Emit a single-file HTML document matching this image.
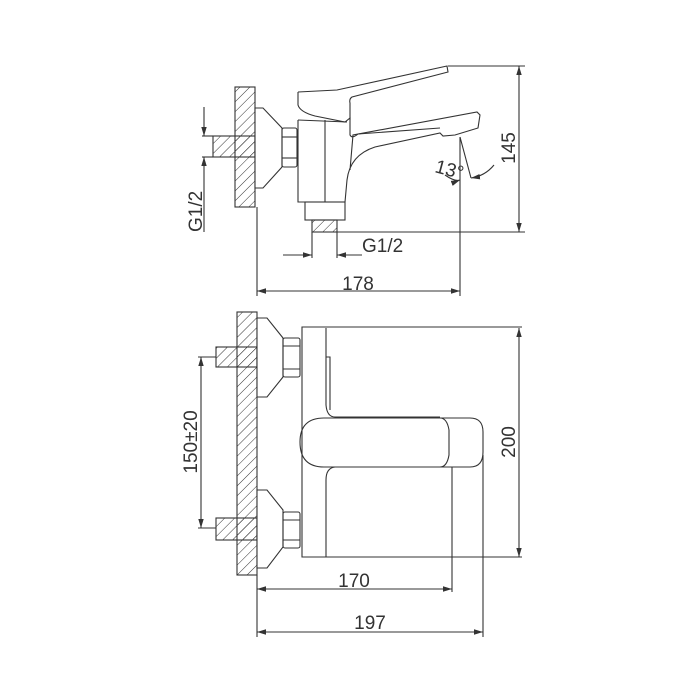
<!DOCTYPE html>
<html><head><style>html,body{margin:0;padding:0;background:#fff}svg{display:block}</style></head>
<body>
<svg width="700" height="700" viewBox="0 0 700 700" xmlns="http://www.w3.org/2000/svg" font-family="Liberation Sans, sans-serif" fill="none" stroke="#333" stroke-width="1.1">
<defs>
<pattern id="h" patternUnits="userSpaceOnUse" width="7" height="7" patternTransform="rotate(45)">
<line x1="0" y1="0" x2="0" y2="7" stroke="#333" stroke-width="1"/>
</pattern>
<marker id="a" viewBox="0 0 10 10" refX="10" refY="5" markerWidth="9" markerHeight="9" orient="auto-start-reverse" markerUnits="userSpaceOnUse"><path d="M0,2 L10,5 L0,8 z" fill="#333" stroke="none"/></marker>
</defs>

<!-- TOP VIEW -->
<rect x="235" y="87" width="20" height="120" fill="url(#h)"/>
<rect x="213" y="136" width="42" height="21" fill="url(#h)"/>
<path d="M255,108 L263,108 L282,128 L282,167 L263,188 L255,188 Z" fill="#fff"/>
<rect x="282" y="128" width="15" height="39" rx="2"/>
<line x1="282" y1="137" x2="297" y2="137"/><line x1="282" y1="158" x2="297" y2="158"/>
<!-- body -->
<path d="M298,120 L298,202 L345,202 L347,180 Q350,155 375,147 L440,133 L443,136 L455,135 L478,128 L480,115 L477,112 L353,135 L350,170"/>
<line x1="325" y1="120" x2="325" y2="202"/>
<line x1="298" y1="120" x2="347" y2="122"/>
<!-- handle -->
<path d="M298,92 L298,105 Q300,112 315,116 L345,122 L350,118 L350,135 Q352,139 358,134 L440,128"/>
<path d="M298,92 L337,90 L447,66 L448,72 L352,97 Q349,99 350,103 L350,120"/>
<rect x="305" y="202" width="40" height="18"/>
<rect x="312" y="220" width="25" height="12" fill="url(#h)"/>
<!-- 13 deg -->
<line x1="460" y1="137" x2="460" y2="180"/>
<line x1="460" y1="137" x2="471" y2="178"/>
<path d="M445,175 Q455,182 460,180" marker-end="url(#a)"/>
<path d="M494,165 Q485,176 471,178" marker-end="url(#a)"/>
<text x="434" y="172" font-size="19" fill="#333" stroke="none" transform="rotate(15 434 172)">13°</text>
<!-- G1/2 left -->
<line x1="204" y1="107" x2="204" y2="136" marker-end="url(#a)"/>
<line x1="204" y1="232" x2="204" y2="157" marker-end="url(#a)"/>
<line x1="202" y1="136" x2="213" y2="136"/><line x1="202" y1="157" x2="213" y2="157"/>
<text x="0" y="0" font-size="19" fill="#333" stroke="none" transform="translate(202,232) rotate(-90)">G1/2</text>
<!-- G1/2 bottom -->
<line x1="312" y1="232" x2="312" y2="258"/><line x1="337" y1="232" x2="337" y2="258"/>
<line x1="283" y1="255" x2="312" y2="255" marker-end="url(#a)"/>
<line x1="362" y1="255" x2="337" y2="255" marker-end="url(#a)"/>
<text x="362" y="252" font-size="19" fill="#333" stroke="none">G1/2</text>
<!-- 178 -->
<line x1="257" y1="207" x2="257" y2="296"/>
<line x1="460" y1="180" x2="460" y2="296"/>
<line x1="257" y1="291" x2="460" y2="291" marker-start="url(#a)" marker-end="url(#a)"/>
<text x="358" y="290" font-size="19" fill="#333" stroke="none" text-anchor="middle">178</text>
<!-- 145 -->
<line x1="448" y1="66" x2="525" y2="66"/>
<line x1="337" y1="232" x2="525" y2="232"/>
<line x1="519" y1="66" x2="519" y2="232" marker-start="url(#a)" marker-end="url(#a)"/>
<text x="0" y="0" font-size="19" fill="#333" stroke="none" text-anchor="middle" transform="translate(515,148) rotate(-90)">145</text>

<!-- BOTTOM VIEW -->
<rect x="237" y="312" width="20" height="263" fill="url(#h)"/>
<rect x="216" y="347" width="41" height="20" fill="url(#h)"/>
<rect x="216" y="518" width="41" height="22" fill="url(#h)"/>
<path d="M257,318 L267,318 L283,338 L283,377 L267,397 L257,397 Z" fill="#fff"/>
<path d="M257,490 L267,490 L283,510 L283,547 L267,568 L257,568 Z" fill="#fff"/>
<rect x="283" y="338" width="17" height="39" rx="2"/>
<line x1="283" y1="346" x2="300" y2="346"/><line x1="283" y1="369" x2="300" y2="369"/>
<rect x="283" y="512" width="17" height="36" rx="2"/>
<line x1="283" y1="520" x2="300" y2="520"/><line x1="283" y1="540" x2="300" y2="540"/>
<path d="M522,327 L302,327 L302,557 L522,557"/>
<path d="M326,328 L326,405 Q327,417 335,417 L440,417"/>
<path d="M326,357 L330,357 L330,410"/>
<path d="M324,418 L440,418 Q447,418 449,430 L449,455 Q447,467 440,467 L324,467 Q300,467 300,442 Q300,418 324,418 Z"/>
<path d="M440,418 L470,418 Q483,418 483,432 L483,452 Q483,467 470,467 L440,467"/>
<path d="M335,467 Q326,468 326,480 L326,557"/>
<!-- 200 -->
<line x1="519" y1="328" x2="519" y2="557" marker-start="url(#a)" marker-end="url(#a)"/>
<text x="0" y="0" font-size="19" fill="#333" stroke="none" text-anchor="middle" transform="translate(515,442) rotate(-90)">200</text>
<!-- 150±20 -->
<line x1="198" y1="357" x2="216" y2="357"/><line x1="198" y1="528" x2="216" y2="528"/>
<line x1="201" y1="357" x2="201" y2="528" marker-start="url(#a)" marker-end="url(#a)"/>
<text x="0" y="0" font-size="19" fill="#333" stroke="none" text-anchor="middle" transform="translate(197,442) rotate(-90)">150±20</text>
<!-- 170 / 197 -->
<line x1="257" y1="575" x2="257" y2="637"/>
<line x1="452" y1="467" x2="452" y2="592"/>
<line x1="483" y1="455" x2="483" y2="637"/>
<line x1="257" y1="589" x2="452" y2="589" marker-start="url(#a)" marker-end="url(#a)"/>
<text x="354" y="587" font-size="19" fill="#333" stroke="none" text-anchor="middle">170</text>
<line x1="257" y1="632" x2="483" y2="632" marker-start="url(#a)" marker-end="url(#a)"/>
<text x="370" y="629" font-size="19" fill="#333" stroke="none" text-anchor="middle">197</text>
</svg>
</body></html>
